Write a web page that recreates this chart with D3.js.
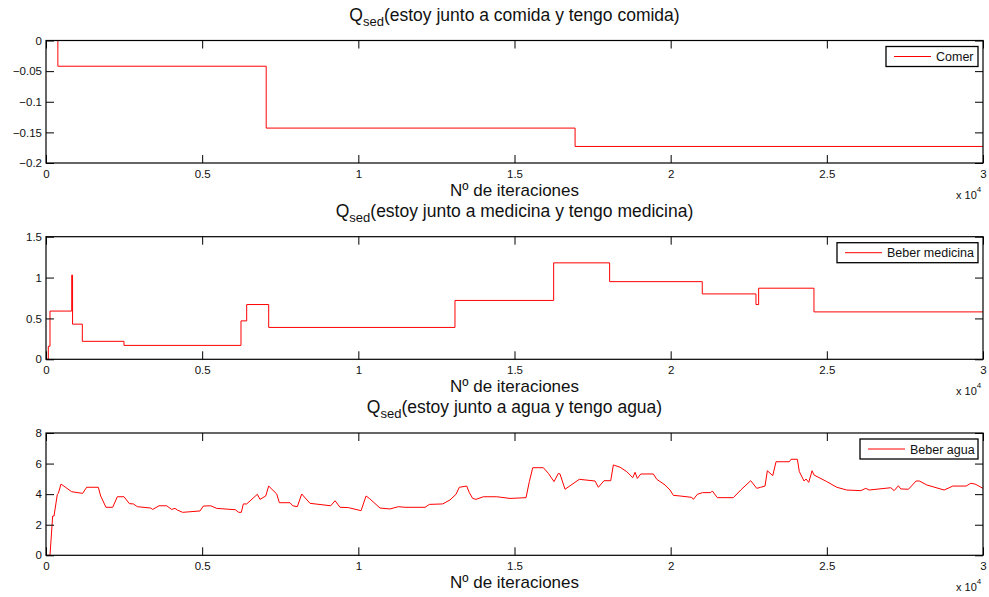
<!DOCTYPE html>
<html>
<head>
<meta charset="utf-8" />
<title>Q sed</title>
<style>
html, body {
    margin: 0;
    padding: 0;
    background: #fff;
}
svg {
    display: block;
    font-family: "Liberation Sans", Arial, Helvetica, sans-serif;
}
.axis text {
    font-size: 11.5px;
    fill: #111;
}
.axis line {
    stroke: #000;
}
</style>
</head>
<body>
<div id="chart"></div>
<script src="https://cdnjs.cloudflare.com/ajax/libs/d3/7.8.5/d3.min.js"></script>
<script>
// --- data ---
var xTicks = [0, 5000, 10000, 15000, 20000, 25000, 30000]
var xTickLabels = ["0", "0.5", "1", "1.5", "2", "2.5", "3"]

// panel 1 : comida (step)
var comerIter = [0, 380, 7050, 16940, 30000]
var comerQ = [0, -0.042, -0.143, -0.173, -0.173]
var comerYTicks = [-0.2, -0.15, -0.1, -0.05, 0]
var comerYLabels = ["\u22120.2", "\u22120.15", "\u22120.1", "\u22120.05", "0"]

// panel 2 : medicina (step)
var medIter = [0, 74, 128, 823, 850, 1163, 2497, 6243, 6425, 7130, 13094, 16254, 18046, 21012, 22731, 22817, 24588, 30000]
var medQ = [0, 0.16, 0.59, 1.03, 0.43, 0.22, 0.17, 0.47, 0.67, 0.39, 0.72, 1.18, 0.95, 0.80, 0.67, 0.87, 0.58, 0.58]
var medYTicks = [0, 0.5, 1, 1.5]
var medYLabels = ["0", "0.5", "1", "1.5"]

// panel 3 : agua (line)
var aguaIter = [0, 128, 214, 256, 363, 395, 480, 822, 1174, 1302, 1675, 1750, 1921, 2135, 2284, 2498, 2668, 2796, 2925, 3352,
    3416, 3618, 3864, 4024, 4131, 4206, 4376, 4931, 5038, 5273, 5465, 6062, 6170, 6254, 6318, 6425, 6767, 6852, 7035, 7130,
    7386, 7471, 7813, 7899, 8047, 8187, 8453, 9116, 9254, 9414, 9680, 10087, 10247, 10353, 10695, 11015, 11282, 11495, 12136, 12274,
    12701, 12935, 13127, 13233, 13470, 13553, 13662, 13768, 14002, 14431, 14857, 15369, 15475, 15584, 15924, 16084, 16266, 16404, 16457, 16618,
    17076, 17579, 17685, 17867, 18081, 18165, 18379, 18594, 18786, 18860, 18934, 19043, 19446, 19555, 19820, 19980, 20087, 20301, 20675, 20727,
    20855, 21027, 21283, 21334, 21494, 22007, 22243, 22563, 22755, 22883, 23021, 23095, 23268, 23373, 23799, 23854, 24056, 24120, 24271, 24335,
    24421, 24527, 24591, 24999, 25319, 25639, 26088, 26248, 26353, 27048, 27154, 27292, 27368, 27612, 27858, 27965, 28202, 28756, 29034, 29459,
    29610, 29747, 30000]
var aguaQ = [0, 0, 2.57, 2.57, 3.99, 4.05, 4.66, 4.16, 4.05, 4.45, 4.45, 3.88, 3.14, 3.14, 3.83, 3.83, 3.38, 3.36, 3.18, 3.09,
    3.0, 3.24, 3.24, 3.0, 3.07, 2.96, 2.81, 2.9, 3.22, 3.24, 3.07, 2.98, 2.81, 2.81, 3.36, 3.36, 3.99, 3.66, 3.88, 4.53,
    4.01, 3.44, 3.44, 3.24, 3.18, 4.01, 3.40, 3.24, 3.57, 3.14, 3.12, 2.92, 3.88, 3.72, 3.09, 3.03, 3.18, 3.14, 3.14, 3.33,
    3.36, 3.62, 3.99, 4.45, 4.53, 4.10, 3.72, 3.66, 3.83, 3.83, 3.72, 3.77, 4.82, 5.73, 5.73, 5.36, 4.82, 5.36, 5.32, 4.32,
    4.97, 4.86, 4.45, 4.88, 4.88, 5.91, 5.76, 5.47, 5.08, 5.43, 5.03, 5.32, 5.32, 4.97, 4.60, 4.27, 3.92, 3.88, 3.79, 3.66,
    3.99, 4.10, 4.10, 4.21, 3.77, 3.77, 4.27, 4.88, 4.38, 4.45, 4.53, 5.53, 5.21, 6.12, 6.12, 6.28, 6.28, 5.47, 4.86, 4.99,
    4.77, 5.53, 5.25, 4.82, 4.45, 4.27, 4.23, 4.38, 4.27, 4.42, 4.23, 4.55, 4.34, 4.32, 4.86, 4.86, 4.60, 4.27, 4.53, 4.53,
    4.71, 4.66, 4.38]
var aguaYTicks = [0, 2, 4, 6, 8]
var aguaYLabels = ["0", "2", "4", "6", "8"]

var W = 989, H = 597
var left = 46, right = 983

var panels = [
    {top: 40.5, bottom: 163, iter: comerIter, q: comerQ, ydom: [-0.2, 0], yt: comerYTicks, yl: comerYLabels,
     title: "(estoy junto a comida y tengo comida)", legend: "Comer", legW: 92, step: true},
    {top: 236.7, bottom: 359.3, iter: medIter, q: medQ, ydom: [0, 1.5], yt: medYTicks, yl: medYLabels,
     title: "(estoy junto a medicina y tengo medicina)", legend: "Beber medicina", legW: 141, step: true},
    {top: 433, bottom: 555.3, iter: aguaIter, q: aguaQ, ydom: [0, 8], yt: aguaYTicks, yl: aguaYLabels,
     title: "(estoy junto a agua y tengo agua)", legend: "Beber agua", legW: 118, step: false}
]

var svg = d3.select("#chart").append("svg")
    .attr("width", W)
    .attr("height", H)

var x = d3.scaleLinear().domain([0, 30000]).range([left, right])

panels.forEach(function(p) {
    var y = d3.scaleLinear().domain(p.ydom).range([p.bottom, p.top])
    var g = svg.append("g")

    var pts = p.iter.map(function(d, i) { return [d, p.q[i]] })
    var line = d3.line()
        .x(function(d) { return x(d[0]) })
        .y(function(d) { return y(d[1]) })
        .curve(p.step ? d3.curveStepAfter : d3.curveLinear)

    g.append("path")
        .attr("d", line(pts))
        .attr("fill", "none")
        .attr("stroke", "#ff0000")
        .attr("stroke-width", 1)

    // axes with inward ticks, MATLAB style
    var fmtX = function(d, i) { return xTickLabels[i] }
    var fmtY = function(d, i) { return p.yl[i] }

    g.append("g").attr("class", "axis")
        .attr("transform", "translate(0," + p.bottom + ")")
        .call(d3.axisBottom(x).tickValues(xTicks).tickFormat(fmtX).tickSizeInner(-8).tickSizeOuter(0).tickPadding(7))
    g.append("g").attr("class", "axis")
        .attr("transform", "translate(0," + p.top + ")")
        .call(d3.axisTop(x).tickValues(xTicks).tickFormat("").tickSizeInner(-8).tickSizeOuter(0))
    g.append("g").attr("class", "axis")
        .attr("transform", "translate(" + left + ",0)")
        .call(d3.axisLeft(y).tickValues(p.yt).tickFormat(fmtY).tickSizeInner(-8).tickSizeOuter(0).tickPadding(4))
    g.append("g").attr("class", "axis")
        .attr("transform", "translate(" + right + ",0)")
        .call(d3.axisRight(y).tickValues(p.yt).tickFormat("").tickSizeInner(-8).tickSizeOuter(0))
    g.selectAll(".axis .domain").remove()

    g.append("rect")
        .attr("x", left).attr("y", p.top)
        .attr("width", right - left).attr("height", p.bottom - p.top)
        .attr("fill", "none").attr("stroke", "#000").attr("stroke-width", 1.2)

    // title with subscript
    var t = g.append("text")
        .attr("x", (left + right) / 2)
        .attr("y", p.top - 20)
        .attr("text-anchor", "middle")
        .style("font-size", "17.5px")
        .attr("fill", "#111")
    t.append("tspan").text("Q")
    t.append("tspan").attr("dy", 5).style("font-size", "13px").text("sed")
    t.append("tspan").attr("dy", -5).text(p.title)

    // x label
    g.append("text")
        .attr("x", (left + right) / 2)
        .attr("y", p.bottom + 33)
        .attr("text-anchor", "middle")
        .style("font-size", "17px")
        .attr("fill", "#111")
        .text("N\u00ba de iteraciones")

    // x 10^4
    var e = g.append("text")
        .attr("x", 956)
        .attr("y", p.bottom + 35.5)
        .style("font-size", "11px")
        .attr("fill", "#111")
    e.append("tspan").text("x 10")
    e.append("tspan").attr("dy", -7).style("font-size", "8px").text("4")

    // legend
    var lx = right - 5 - p.legW, ly = p.top + 6
    g.append("rect")
        .attr("x", lx).attr("y", ly)
        .attr("width", p.legW).attr("height", 20)
        .attr("fill", "#fff").attr("stroke", "#000").attr("stroke-width", 1.3)
    g.append("line")
        .attr("x1", lx + 8).attr("x2", lx + 45)
        .attr("y1", ly + 10).attr("y2", ly + 10)
        .attr("stroke", "#ff0000").attr("stroke-width", 1)
    g.append("text")
        .attr("x", lx + 50).attr("y", ly + 14.5)
        .style("font-size", "12.5px")
        .attr("fill", "#111")
        .text(p.legend)
})
</script>
</body>
</html>
